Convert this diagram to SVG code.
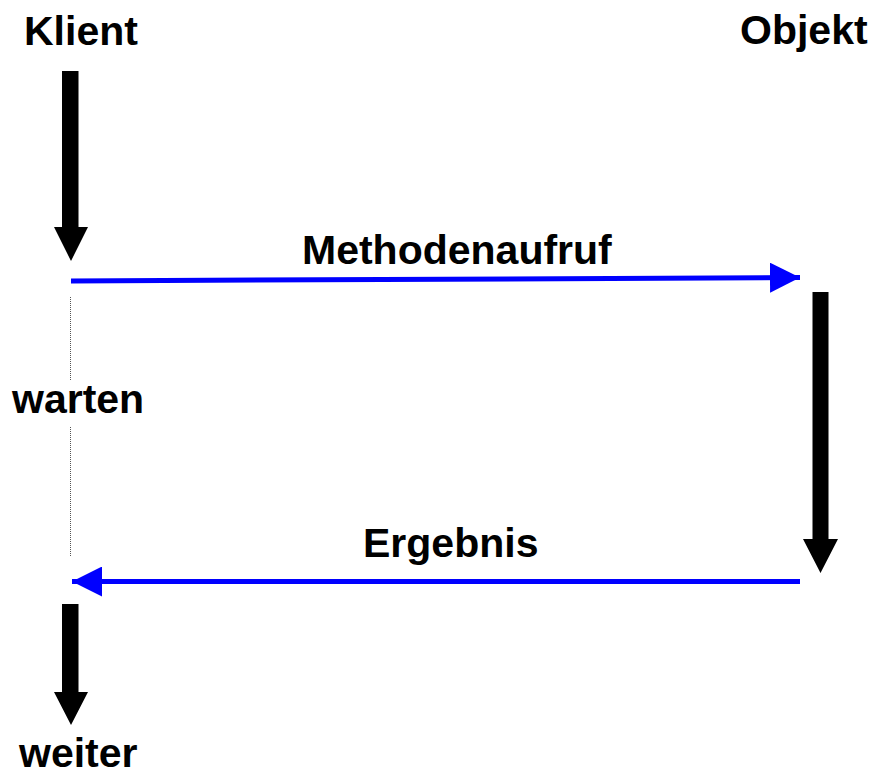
<svg xmlns="http://www.w3.org/2000/svg" width="876" height="772" viewBox="0 0 876 772">
<style>
text{font-family:"Liberation Sans",Arial,sans-serif;font-weight:bold;font-size:41px;fill:#000}
.flow{fill:#000}
.msg{stroke:#0000ff;stroke-width:5;fill:none}
.wait{stroke:#555;stroke-width:1;stroke-dasharray:1 1;fill:none}
</style>
<defs>
<marker id="ah" markerUnits="userSpaceOnUse" viewBox="0 0 30 30" markerWidth="30" markerHeight="30" refX="30" refY="15" orient="auto">
<path d="M0,0 L30,15 L0,30 Z" fill="#0000ff"/>
</marker>
</defs>
<g id="klient">
<text x="24" y="45">Klient</text>
<path class="flow" d="M62,71 H78.5 V227 H88 L71,261 L54,227 H62 Z"/>
</g>
<g id="objekt">
<text x="740" y="44">Objekt</text>
<path class="flow" d="M812.5,292 H828.5 V539 H838 L820.5,573 L803,539 H812.5 Z"/>
</g>
<g id="warten">
<text x="12" y="413">warten</text>
<path class="wait" d="M70.5,297 V380 M70.5,427 V556"/>
</g>
<g id="weiter">
<path class="flow" d="M62,604 H78.5 V692 H88 L71,725 L54,692 H62 Z"/>
<text x="19" y="767">weiter</text>
</g>
<g id="connectors">
<path class="msg" d="M71,281 L800,277.5" marker-end="url(#ah)"/>
<text x="302" y="264">Methodenaufruf</text>
<path class="msg" d="M800,581.5 L72,581.5" marker-end="url(#ah)"/>
<text x="363" y="557">Ergebnis</text>
</g>
</svg>
